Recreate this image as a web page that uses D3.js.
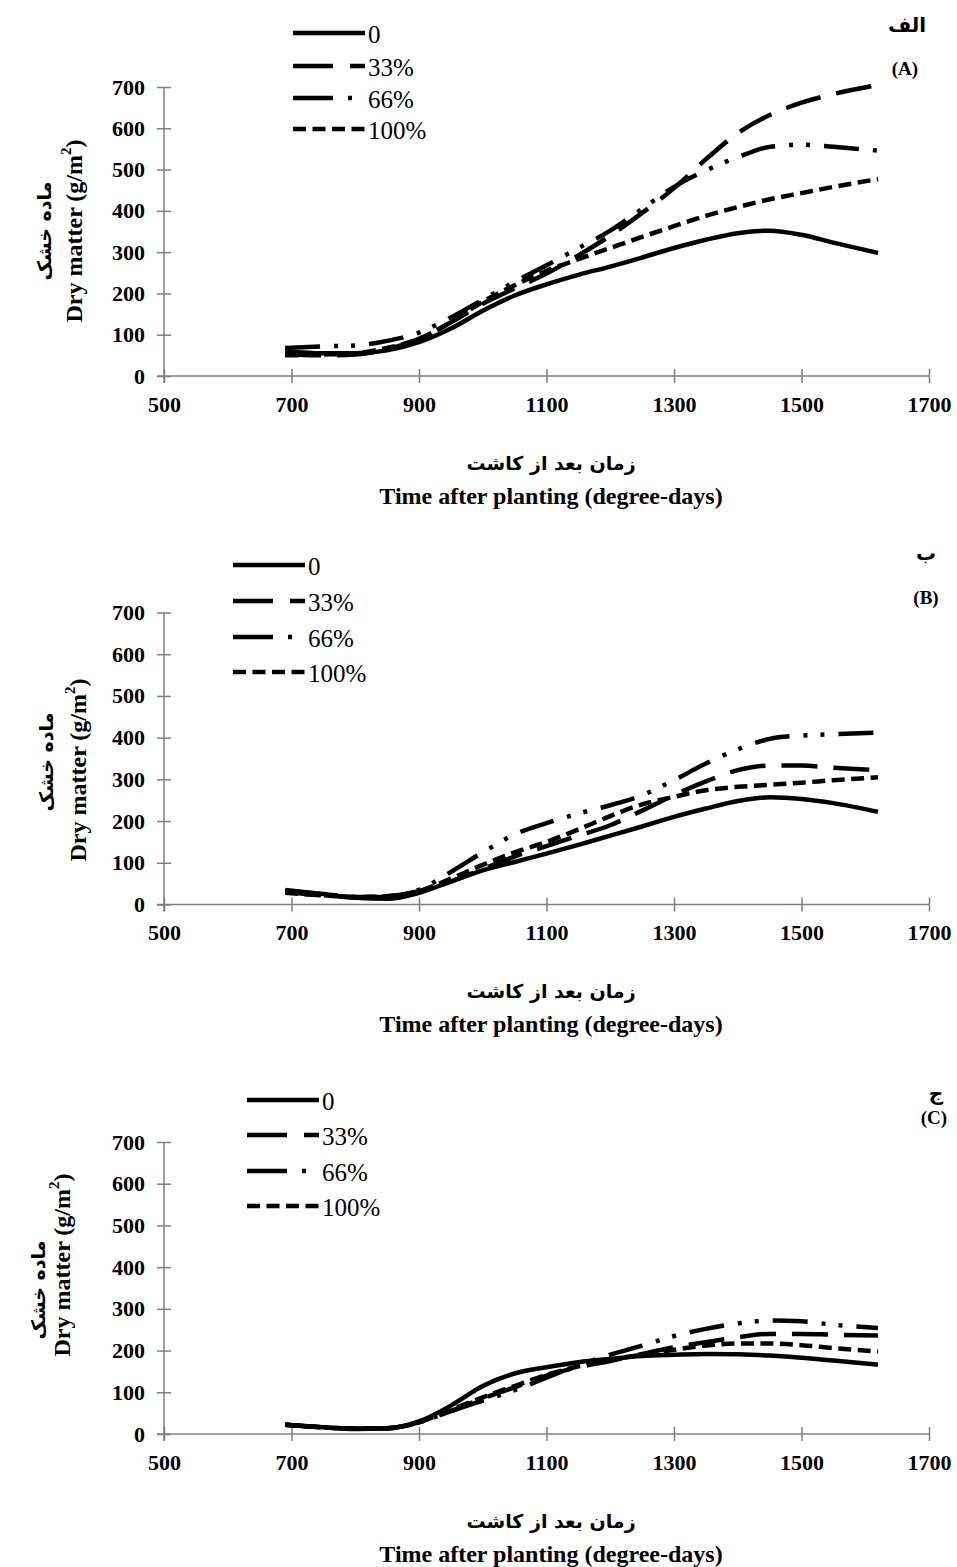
<!DOCTYPE html>
<html>
<head>
<meta charset="utf-8">
<script src="https://cdn.jsdelivr.net/npm/d3@7"></script>
<style>
  body { margin: 0; background: #fff; }
  .tick text { font-family: "Liberation Serif", "Times New Roman", serif; font-weight: bold; font-size: 22px; fill: #000; }
  .serif { font-family: "Liberation Serif", "Times New Roman", serif; }
  .fa { font-family: "DejaVu Sans", sans-serif; font-weight: bold; }
</style>
</head>
<body>
<svg id="chart" width="957" height="1567"></svg>
<script>
// degree-days at which the curves were read
const days = [690, 750, 800, 850, 900, 950, 1000, 1050, 1100, 1150, 1200, 1250, 1300, 1350, 1400, 1450, 1500, 1550, 1620];
const seriesNames = ["0", "33%", "66%", "100%"];
const xTicks = [500, 700, 900, 1100, 1300, 1500, 1700];
const yTicks = [0, 100, 200, 300, 400, 500, 600, 700];

// panel A (الف)
const a0   = [60, 55, 55, 62, 82, 115, 158, 195, 222, 245, 265, 287, 310, 330, 346, 352, 342, 323, 298];
const a33  = [52, 50, 52, 65, 90, 130, 175, 212, 248, 292, 340, 395, 455, 525, 588, 632, 662, 683, 705];
const a66  = [68, 72, 74, 85, 105, 142, 185, 228, 268, 310, 352, 405, 458, 498, 530, 555, 560, 555, 546];
const a100 = [50, 52, 55, 68, 90, 130, 180, 220, 255, 283, 310, 337, 363, 388, 409, 428, 443, 458, 477];

// panel B (ب)
const b0   = [32, 25, 16, 14, 28, 55, 82, 102, 122, 143, 165, 187, 210, 230, 248, 257, 253, 243, 222];
const b33  = [30, 22, 18, 20, 32, 55, 85, 115, 140, 165, 190, 225, 262, 295, 322, 333, 333, 328, 322];
const b66  = [35, 25, 18, 18, 35, 78, 125, 168, 195, 218, 238, 262, 298, 338, 372, 397, 405, 408, 412];
const b100 = [28, 22, 18, 20, 32, 62, 95, 125, 150, 180, 212, 240, 258, 274, 282, 287, 292, 298, 305];

// panel C (ج)
const c0   = [22, 16, 12, 13, 30, 68, 115, 145, 160, 172, 180, 187, 190, 192, 191, 188, 183, 176, 166];
const c33  = [22, 16, 13, 14, 28, 55, 85, 112, 140, 160, 175, 192, 208, 220, 232, 240, 240, 238, 236];
const c66  = [22, 16, 13, 14, 28, 55, 80, 105, 135, 165, 190, 212, 235, 252, 265, 272, 270, 262, 254];
const c100 = [22, 16, 13, 14, 28, 58, 88, 115, 142, 162, 178, 190, 202, 212, 217, 217, 213, 206, 198];

const dashes = [null, "36,16", "35,14,4,13,4,14", "13,6.5"];

const panels = [
  { series: [a0, a33, a66, a100], top: 87, bottom: 376, legX: 293, legY: [33, 66, 98, 129],
    fa: "الف", faPos: [907, 25], tag: "(A)", tagPos: [905, 68],
    yTitle: { en: [74, 231], fa: [44, 231] }, xTitleY: [463, 504] },
  { series: [b0, b33, b66, b100], top: 612.5, bottom: 904.5, legX: 233, legY: [565, 601, 637, 672],
    fa: "ب", faPos: [926, 553], tag: "(B)", tagPos: [926, 597],
    yTitle: { en: [78, 770], fa: [46, 762] }, xTitleY: [991, 1032] },
  { series: [c0, c33, c66, c100], top: 1142, bottom: 1434, legX: 247, legY: [1100, 1135, 1171, 1206],
    fa: "ج", faPos: [936, 1093], tag: "(C)", tagPos: [934, 1117],
    yTitle: { en: [62, 1265], fa: [38, 1290] }, xTitleY: [1521, 1562] }
];

const svg = d3.select("#chart");
const x = d3.scaleLinear().domain([500, 1700]).range([164, 929]);

panels.forEach(p => {
  const y = d3.scaleLinear().domain([0, 700]).range([p.bottom, p.top]);
  const g = svg.append("g");

  // axes with cross ticks
  const yAxisG = g.append("g").attr("transform", "translate(164,0)")
    .call(d3.axisLeft(y).tickValues(yTicks).tickSize(7).tickPadding(12));
  g.append("g").attr("transform", "translate(164,0)")
    .call(d3.axisRight(y).tickValues(yTicks).tickSize(7).tickFormat(""))
    .select(".domain").remove();
  yAxisG.select(".domain").attr("d", `M0,${p.top}V${p.bottom + 7}`);

  const xAxisG = g.append("g").attr("transform", `translate(0,${p.bottom})`)
    .call(d3.axisBottom(x).tickValues(xTicks).tickSize(7).tickPadding(13).tickFormat(d3.format("d")));
  g.append("g").attr("transform", `translate(0,${p.bottom})`)
    .call(d3.axisTop(x).tickValues(xTicks).tickSize(7).tickFormat(""))
    .select(".domain").remove();
  xAxisG.select(".domain").attr("d", "M157,0H929");

  g.selectAll(".domain, .tick line").attr("stroke", "#7f7f7f").attr("stroke-width", 1.5);

  // curves
  const line = d3.line().curve(d3.curveMonotoneX)
    .x((d, i) => x(days[i])).y(d => y(d));
  p.series.forEach((s, i) => {
    g.append("path").attr("d", line(s))
      .attr("fill", "none").attr("stroke", "#000").attr("stroke-width", 4.5)
      .attr("stroke-dasharray", dashes[i]);
  });

  // legend
  seriesNames.forEach((name, i) => {
    g.append("line").attr("x1", p.legX).attr("x2", p.legX + 72)
      .attr("y1", p.legY[i]).attr("y2", p.legY[i])
      .attr("stroke", "#000").attr("stroke-width", 4.5)
      .attr("stroke-dasharray", i === 1 ? "40,17" : i === 2 ? "40,15,4,20" : dashes[i]);
    g.append("text").attr("class", "serif").attr("x", p.legX + 75).attr("y", p.legY[i] + 1)
      .attr("dominant-baseline", "central").attr("font-size", 25).text(name);
  });

  // panel tags
  g.append("text").attr("class", "fa").attr("x", p.faPos[0]).attr("y", p.faPos[1])
    .attr("text-anchor", "middle").attr("dominant-baseline", "central").attr("font-size", 20).text(p.fa);
  g.append("text").attr("class", "serif").attr("x", p.tagPos[0]).attr("y", p.tagPos[1])
    .attr("text-anchor", "middle").attr("dominant-baseline", "central")
    .attr("font-size", 19).attr("font-weight", "bold").text(p.tag);

  // y titles
  const en = g.append("text").attr("class", "serif").attr("font-weight", "bold").attr("font-size", 24)
    .attr("text-anchor", "middle").attr("dominant-baseline", "central")
    .attr("transform", `translate(${p.yTitle.en[0]},${p.yTitle.en[1]}) rotate(-90)`);
  en.append("tspan").text("Dry matter (g/m");
  en.append("tspan").attr("baseline-shift", "super").attr("font-size", 15).text("2");
  en.append("tspan").text(")");
  g.append("text").attr("class", "fa").attr("font-size", 19)
    .attr("text-anchor", "middle").attr("dominant-baseline", "central")
    .attr("transform", `translate(${p.yTitle.fa[0]},${p.yTitle.fa[1]}) rotate(-90)`)
    .text("ماده خشک");

  // x titles
  g.append("text").attr("class", "fa").attr("font-size", 19).attr("text-anchor", "middle")
    .attr("x", 551).attr("y", p.xTitleY[0]).attr("dominant-baseline", "central").text("زمان بعد از کاشت");
  g.append("text").attr("class", "serif").attr("font-weight", "bold").attr("font-size", 24)
    .attr("text-anchor", "middle").attr("x", 551).attr("y", p.xTitleY[1])
    .text("Time after planting (degree-days)");
});
</script>
</body>
</html>
